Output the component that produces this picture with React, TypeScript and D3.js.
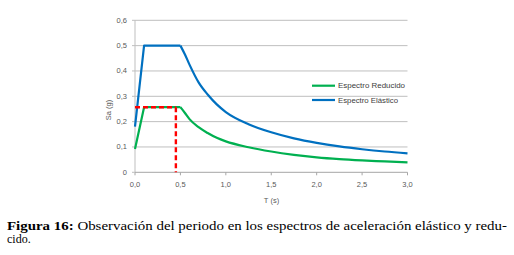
import React from "react";
import * as d3 from "d3";

// ---- data ----
const riseT = [0, 0.1, 0.5];
const elasticRise = [0.18, 0.5, 0.5];
const reducedRise = [0.092, 0.257, 0.257];

const decayT = [0.5, 0.55, 0.6, 0.7, 0.8, 0.9, 1.0, 1.25, 1.5, 1.75, 2.0, 2.25, 2.5, 2.75, 3.0];
const elasticDecay = [0.5, 0.465, 0.425, 0.355, 0.307, 0.268, 0.238, 0.19, 0.158, 0.134, 0.116, 0.102, 0.091, 0.082, 0.075];
const reducedDecay = [0.257, 0.234, 0.21, 0.178, 0.155, 0.136, 0.122, 0.099, 0.082, 0.069, 0.059, 0.052, 0.047, 0.043, 0.039];

const periodT = 0.45;
const periodSa = 0.257;

const xTicks = [0, 0.5, 1.0, 1.5, 2.0, 2.5, 3.0];
const yTicks = [0, 0.1, 0.2, 0.3, 0.4, 0.5, 0.6];

const seriesNames = ["Espectro Reducido", "Espectro Elástico"];
const xLabel = "T (s)";
const yLabel = "Sa (g)";
const captionBold = "Figura 16:";
const captionLine1 = " Observación del periodo en los espectros de aceleración elástico y redu-";
const captionLine2 = "cido.";

const GREEN = "#00B050";
const BLUE = "#0070C0";
const RED = "#FF0000";
const GRID = "#BFBFBF";
const LABEL = "#595959";

export default function App() {
  const x = d3.scaleLinear().domain([0, 3]).range([135, 407.5]);
  const y = d3.scaleLinear().domain([0, 0.6]).range([172.3, 20.3]);

  const lin = d3
    .line<[number, number]>()
    .x((d) => x(d[0]))
    .y((d) => y(d[1]));
  const smooth = d3
    .line<[number, number]>()
    .x((d) => x(d[0]))
    .y((d) => y(d[1]))
    .curve(d3.curveMonotoneX);

  const zip = (a: number[], b: number[]) => a.map((v, i) => [v, b[i]] as [number, number]);

  const fmtY = (v: number) => (v === 0 ? "0" : d3.format(".1f")(v).replace(".", ","));
  const fmtX = (v: number) => d3.format(".1f")(v).replace(".", ",");

  const font = "'Liberation Sans', Arial, sans-serif";
  const [x0, x1] = x.range();
  const legendWidths = [67, 60];

  return (
    <svg
      width={514}
      height={255}
      style={{ position: "absolute", left: 0, top: 0, background: "#fff" }}
    >
      {/* gridlines */}
      {yTicks.filter((t) => t > 0).map((t) => (
        <line key={t} x1={x0} x2={x1} y1={y(t)} y2={y(t)} stroke={GRID} strokeWidth={1} />
      ))}
      {/* axes */}
      <line x1={x0} x2={x0} y1={y(0.6)} y2={y(0)} stroke={GRID} strokeWidth={1} />
      <line x1={x0} x2={x1} y1={y(0)} y2={y(0)} stroke="#A6A6A6" strokeWidth={1} />
      {xTicks.map((t) => (
        <line key={t} x1={x(t)} x2={x(t)} y1={y(0)} y2={y(0) + 3} stroke="#A6A6A6" strokeWidth={1} />
      ))}
      {yTicks.map((t) => (
        <line key={t} x1={x0 - 3} x2={x0} y1={y(t)} y2={y(t)} stroke={GRID} strokeWidth={1} />
      ))}
      {/* tick labels */}
      {yTicks.map((t) => (
        <text key={t} x={127} y={y(t) + 2.5} textAnchor="end" fontSize={7.5} fontFamily={font} fill={LABEL}>
          {fmtY(t)}
        </text>
      ))}
      {xTicks.map((t) => (
        <text key={t} x={x(t)} y={186.5} textAnchor="middle" fontSize={7.5} fontFamily={font} fill={LABEL}>
          {fmtX(t)}
        </text>
      ))}
      <text x={271.5} y={203} textAnchor="middle" fontSize={7.5} fontFamily={font} fill={LABEL}>
        {xLabel}
      </text>
      <text
        transform={`translate(110.5,110) rotate(-90)`}
        textAnchor="middle"
        fontSize={7.5}
        fontFamily={font}
        fill={LABEL}
      >
        {yLabel}
      </text>

      {/* series */}
      <path d={lin(zip(riseT, reducedRise)) || ""} fill="none" stroke={GREEN} strokeWidth={2.2} strokeLinejoin="round" />
      <path d={smooth(zip(decayT, reducedDecay)) || ""} fill="none" stroke={GREEN} strokeWidth={2.2} strokeLinejoin="round" />
      <path d={lin(zip(riseT, elasticRise)) || ""} fill="none" stroke={BLUE} strokeWidth={2.2} strokeLinejoin="round" />
      <path d={smooth(zip(decayT, elasticDecay)) || ""} fill="none" stroke={BLUE} strokeWidth={2.2} strokeLinejoin="round" />

      {/* period markers */}
      <line x1={x(0)} x2={x(periodT)} y1={y(periodSa)} y2={y(periodSa)} stroke={RED} strokeWidth={2.4} strokeDasharray="5,3" />
      <line x1={x(periodT)} x2={x(periodT)} y1={y(periodSa)} y2={y(0)} stroke={RED} strokeWidth={2.4} strokeDasharray="5,3" />

      {/* legend */}
      {[GREEN, BLUE].map((c, i) => (
        <g key={c}>
          <line x1={312} x2={335} y1={85.7 + i * 14.3} y2={85.7 + i * 14.3} stroke={c} strokeWidth={2.2} />
          <text
            x={338}
            y={85.7 + i * 14.3 + 2.6}
            fontSize={7.5}
            fontFamily={font}
            fill="#404040"
            textLength={legendWidths[i]}
            lengthAdjust="spacingAndGlyphs"
          >
            {seriesNames[i]}
          </text>
        </g>
      ))}

      {/* caption */}
      <text x={7} y={230} fontSize={12} fontFamily="'Liberation Serif', 'Times New Roman', serif" fill="#000" textLength={500} lengthAdjust="spacingAndGlyphs">
        <tspan fontWeight="bold">{captionBold}</tspan>
        <tspan>{captionLine1}</tspan>
      </text>
      <text x={7} y={243} fontSize={12} fontFamily="'Liberation Serif', 'Times New Roman', serif" fill="#000">
        {captionLine2}
      </text>
    </svg>
  );
}
